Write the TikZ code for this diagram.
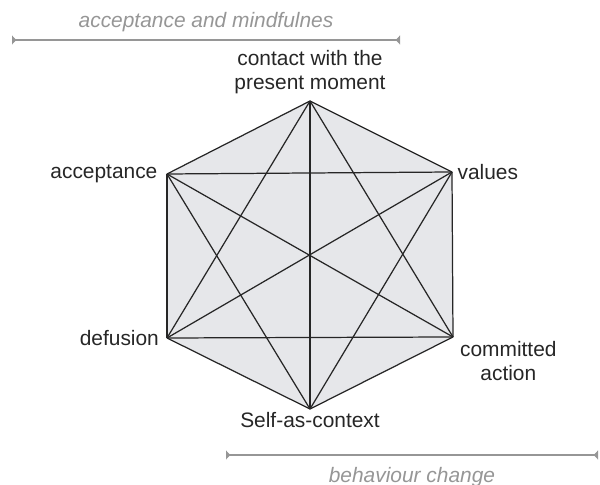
\documentclass[tikz,border=0pt]{standalone}
\usepackage{fontspec}
\setmainfont{Liberation Sans}
\usepackage{xcolor}
\usetikzlibrary{arrows.meta, positioning}
\definecolor{hexfill}{RGB}{230,231,234}
\definecolor{bargray}{RGB}{150,150,150}

\begin{document}
\begin{tikzpicture}[
    vlabel/.style={inner sep=1pt, align=center, text=black!85,
                   font=\fontsize{11.9pt}{13.6pt}\selectfont},
    rangebar/.style={draw=bargray, line width=0.8pt,
                     {Triangle[reversed, length=2.5pt, width=5pt]}-{Triangle[reversed, length=2.5pt, width=5pt]}},
    rangetext/.style={inner sep=1pt, text=bargray,
                      font=\fontsize{11.9pt}{12.6pt}\selectfont\itshape},
    edge/.style={draw=black!85, line width=0.7pt, line join=round},
]
\useasboundingbox (0,0) rectangle (12,9.7);

%% Hexagon corners
\coordinate (contact)   at (6.20,7.68);
\coordinate (values)    at (9.04,6.26);
\coordinate (committed) at (9.06,2.96);
\coordinate (self)      at (6.20,1.52);
\coordinate (defusion)  at (3.34,2.94);
\coordinate (accept)    at (3.34,6.22);

%% Shaded hexagon
\fill[hexfill] (contact) -- (values) -- (committed) -- (self) -- (defusion) -- (accept) -- cycle;

%% Every corner joined to every other
\foreach \a/\b in {contact/values, contact/committed, contact/self, contact/defusion, contact/accept,
                   values/committed, values/self, values/defusion, values/accept,
                   committed/self, committed/defusion, committed/accept,
                   self/defusion, self/accept, defusion/accept}
    \draw[edge] (\a) -- (\b);

%% Corner labels
\node[vlabel, above=0.1cm of contact]   (contactlbl)   {contact with the\\present moment};
\node[vlabel, right=0.07cm of values]   (valueslbl)    {values};
\node[vlabel, anchor=north west, xshift=0.1cm, yshift=-0.04cm]
     at (committed)                     (committedlbl) {committed\\action};
\node[vlabel, below=0.03cm of self]     (selflbl)      {Self-as-context};
\node[vlabel, left=0.12cm of defusion]  (defusionlbl)  {defusion};
\node[vlabel, left=0.15cm of accept]    (acceptlbl)    {acceptance};

%% Range bars
\coordinate (amleft)  at (0.24,8.9);
\coordinate (amright) at (8.00,8.9);
\draw[rangebar] (amleft) -- (amright);
\node[rangetext, above=0.12cm] (amtext) at (4.12,8.9) {acceptance and mindfulnes};

\coordinate (bcleft)  at (4.52,0.6);
\coordinate (bcright) at (11.96,0.6);
\draw[rangebar] (bcleft) -- (bcright);
\node[rangetext, below=0.2cm] (bctext) at (8.24,0.6) {behaviour change};
\end{tikzpicture}
\end{document}
